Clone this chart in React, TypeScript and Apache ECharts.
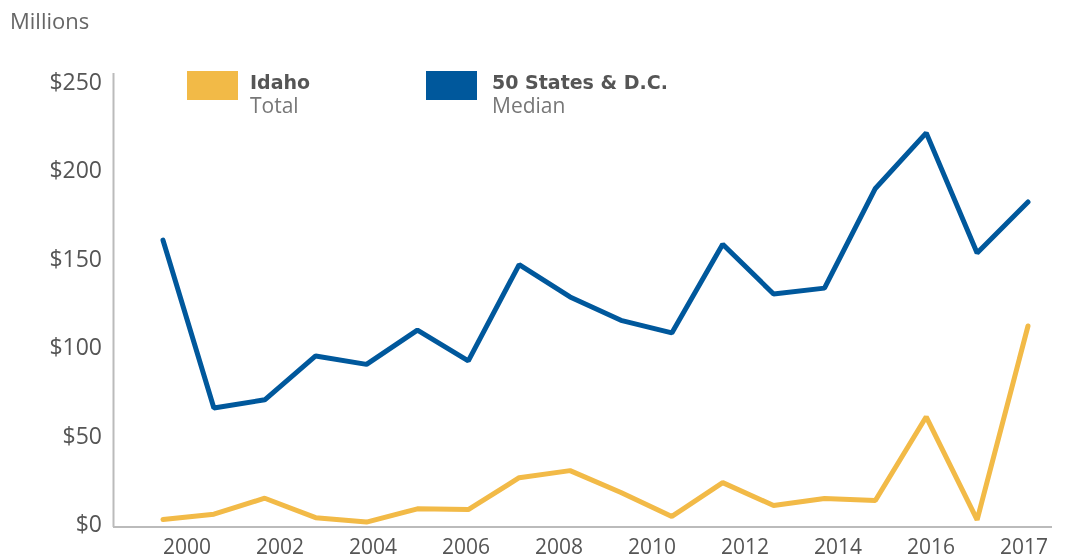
import React, { useEffect, useRef } from "react";
import * as echarts from "echarts";

const years = ["2000","2001","2002","2003","2004","2005","2006","2007","2008","2009","2010","2011","2012","2013","2014","2015","2016","2017"];
const yearLabels = ["2000","2002","2004","2006","2008","2010","2012","2014","2016","2017"];
const idahoTotal = [2, 5, 14, 3, 0.5, 8, 7.6, 25.6, 29.6, 17.2, 3.7, 22.8, 9.9, 13.8, 12.7, 60, 1.8, 111.3];
const statesMedian = [159.8, 65, 69.6, 94.4, 89.6, 109, 91.6, 146, 127.7, 114.5, 107.4, 157.5, 129.4, 132.7, 189, 220.4, 152.5, 181.4];
const yTicks = [0, 50, 100, 150, 200, 250];

const FONT = "'Open Sans', sans-serif";
const BOLD_FONT = "'DejaVu Sans', sans-serif";
const YELLOW = "#F2BA47";
const BLUE = "#00589C";

export default function App() {
  const ref = useRef<HTMLDivElement>(null);
  useEffect(() => {
    if (!ref.current) return;
    const chart = echarts.init(ref.current, null, { renderer: "svg" });
    chart.setOption({
      animation: false,
      textStyle: { fontFamily: FONT },
      grid: [
        { left: 163, right: 38, top: 80.5, bottom: 37, containLabel: false },
        { left: 187, right: 42, top: 80.5, bottom: 37, containLabel: false },
      ],
      xAxis: [
        {
          type: "category",
          gridIndex: 0,
          data: years,
          boundaryGap: false,
          axisLine: { show: false },
          axisTick: { show: false },
          axisLabel: { show: false },
          splitLine: { show: false },
        },
        {
          type: "category",
          gridIndex: 1,
          data: yearLabels,
          boundaryGap: false,
          axisLine: { show: false },
          axisTick: { show: false },
          splitLine: { show: false },
          axisLabel: {
            interval: 0,
            color: "#555",
            fontSize: 21,
            lineHeight: 21,
            fontFamily: FONT,
            margin: 12,
          },
        },
      ],
      yAxis: [
        {
          type: "value",
          gridIndex: 0,
          min: yTicks[0],
          max: yTicks[yTicks.length - 1],
          interval: 50,
          axisLine: { show: false },
          axisTick: { show: false },
          splitLine: { show: false },
          axisLabel: {
            formatter: (v: number) => "$" + v,
            color: "#555",
            fontSize: 23,
            fontFamily: FONT,
            margin: 61,
          },
        },
        { type: "value", gridIndex: 1, show: false, min: 0, max: 1 },
      ],
      graphic: [
        { type: "line", shape: { x1: 113.5, y1: 73, x2: 113.5, y2: 527 }, style: { stroke: "#bbb", lineWidth: 2 }, z: 1 },
        { type: "line", shape: { x1: 113, y1: 527, x2: 1052, y2: 527 }, style: { stroke: "#bbb", lineWidth: 2 }, z: 1 },
        { type: "text", x: 10, y: 20, style: { text: "Millions", fontSize: 22, lineHeight: 22, fontFamily: FONT, fill: "#666", textVerticalAlign: "middle" } },
        { type: "rect", shape: { x: 187, y: 71, width: 51, height: 29 }, style: { fill: YELLOW } },
        { type: "text", x: 250, y: 81.5, style: { text: "Idaho", fontSize: 19, lineHeight: 19, fontWeight: "bold", fontFamily: BOLD_FONT, fill: "#555", textVerticalAlign: "middle" } },
        { type: "text", x: 250, y: 104.5, style: { text: "Total", fontSize: 21, lineHeight: 21, fontFamily: FONT, fill: "#777", textVerticalAlign: "middle" } },
        { type: "rect", shape: { x: 426, y: 71, width: 51, height: 29 }, style: { fill: BLUE } },
        { type: "text", x: 492, y: 81.5, style: { text: "50 States & D.C.", fontSize: 19, lineHeight: 19, fontWeight: "bold", fontFamily: BOLD_FONT, fill: "#555", textVerticalAlign: "middle" } },
        { type: "text", x: 492, y: 104.5, style: { text: "Median", fontSize: 21, lineHeight: 21, fontFamily: FONT, fill: "#777", textVerticalAlign: "middle" } },
      ],
      series: [
        {
          name: "Idaho Total",
          type: "line",
          xAxisIndex: 0,
          yAxisIndex: 0,
          data: idahoTotal,
          symbol: "none",
          lineStyle: { color: YELLOW, width: 5, cap: "round" },
          z: 3,
        },
        {
          name: "50 States & D.C. Median",
          type: "line",
          xAxisIndex: 0,
          yAxisIndex: 0,
          data: statesMedian,
          symbol: "none",
          lineStyle: { color: BLUE, width: 5, cap: "round" },
          z: 3,
        },
      ],
    });
    return () => chart.dispose();
  }, []);
  return <div ref={ref} style={{ width: 1066, height: 560, position: "fixed", left: 0, top: 0 }} />;
}
